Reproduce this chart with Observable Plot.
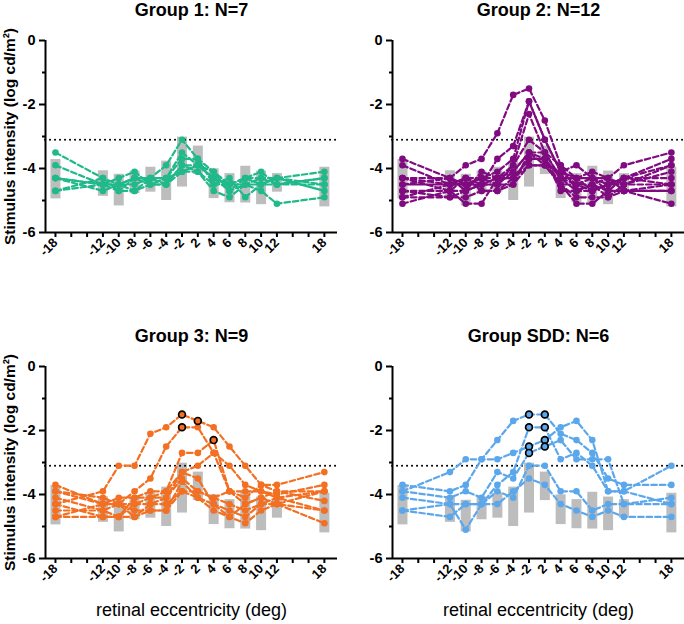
<!DOCTYPE html>
<html><head><meta charset="utf-8">
<script src="https://cdn.jsdelivr.net/npm/d3@7"></script>
<script src="https://cdn.jsdelivr.net/npm/@observablehq/plot@0.6"></script>
<style>
body{margin:0;background:#fff;}
#chart{position:relative;width:684px;height:624px;overflow:hidden;background:#fff;}
.panel{position:absolute;}
</style></head><body><div id="chart"></div>
<script>
// retinal eccentricities measured (deg)
const eccentricities = [-18,-12,-10,-8,-6,-4,-2,2,4,6,8,10,12,18];
// axis tick slots (every 2 deg, no 0)
const tickPositions = [-18,-16,-14,-12,-10,-8,-6,-4,-2,2,4,6,8,10,12,14,16,18];
const labeledTicks = [-18,-12,-10,-8,-6,-4,-2,2,4,6,8,10,12,18];
const yTicks = [0,-2,-4,-6];
const yMinorTicks = [-1,-3,-5];

// normal range (grey bars)
const normalTop    = [-3.72,-4.07,-4.18,-4.08,-3.96,-3.77,-3.02,-3.30,-4.01,-4.16,-3.93,-4.08,-4.16,-3.96];
const normalBottom = [-4.95,-4.87,-5.17,-4.79,-4.74,-5.00,-4.58,-4.19,-4.94,-5.07,-5.08,-5.13,-4.74,-5.20];
const criterion = -3.1;

const titles = ["Group 1: N=7","Group 2: N=12","Group 3: N=9","Group SDD: N=6"];
const yTitle = "Stimulus intensity (log cd/m²)";
const xTitle = "retinal eccentricity (deg)";

const group1 = [
  [-3.5,-4.3,-4.5,-4.3,-4.3,-3.9,-3.1,-3.7,-4.1,-4.5,-4.3,-4.1,-4.5,-4.5],
  [-3.9,-4.5,-4.3,-4.1,-4.5,-4.3,-3.5,-3.9,-4.3,-4.7,-4.5,-4.3,-4.3,-4.1],
  [-4.3,-4.5,-4.5,-4.7,-4.3,-4.3,-3.7,-3.7,-4.5,-4.3,-4.9,-4.5,-4.5,-4.3],
  [-4.7,-4.3,-4.7,-4.3,-4.5,-4.5,-3.9,-4.1,-4.7,-4.9,-4.5,-4.7,-5.1,-4.9],
  [-4.3,-4.5,-4.5,-4.3,-4.3,-4.3,-4.1,-3.9,-4.3,-4.5,-4.5,-4.5,-4.3,-4.7],
  [-4.3,-4.7,-4.5,-4.5,-4.3,-4.5,-3.9,-3.9,-4.1,-4.7,-4.3,-4.3,-4.5,-4.3],
  [-4.7,-4.5,-4.7,-4.7,-4.5,-4.5,-4.1,-4.1,-4.5,-4.5,-4.3,-4.5,-4.3,-4.5]
];
const group2 = [
  [-3.7,-4.3,-3.9,-3.7,-2.9,-1.7,-1.5,-2.5,-3.9,-4.3,-4.1,-4.3,-3.9,-3.5],
  [-3.9,-4.5,-4.3,-4.5,-3.7,-3.3,-1.9,-3.1,-4.1,-3.9,-4.3,-4.5,-4.3,-3.7],
  [-4.3,-4.7,-4.7,-4.1,-4.3,-3.9,-2.3,-3.5,-4.3,-4.7,-4.7,-4.5,-4.3,-3.9],
  [-4.5,-4.3,-4.5,-4.3,-4.1,-3.7,-1.9,-3.1,-4.1,-4.5,-4.5,-4.3,-4.5,-4.1],
  [-4.7,-4.7,-5.1,-5.1,-4.3,-4.1,-3.5,-3.7,-4.5,-5.1,-5.1,-4.7,-4.7,-4.7],
  [-4.9,-4.9,-4.7,-4.5,-4.5,-3.9,-3.1,-3.5,-4.3,-4.5,-4.3,-4.7,-4.7,-4.5],
  [-5.1,-4.7,-4.3,-4.7,-4.7,-4.5,-3.9,-3.9,-4.5,-4.9,-4.9,-4.9,-4.7,-5.1],
  [-4.5,-4.5,-4.5,-4.5,-4.3,-4.3,-3.7,-3.7,-4.3,-4.3,-4.3,-4.3,-4.7,-4.7],
  [-4.3,-4.5,-4.5,-4.3,-4.5,-4.1,-3.5,-3.9,-4.1,-4.3,-4.7,-4.5,-4.3,-4.3],
  [-4.7,-4.9,-4.9,-4.7,-4.7,-4.3,-3.7,-3.7,-4.7,-4.7,-4.5,-4.9,-4.5,-4.5],
  [-4.9,-4.5,-4.3,-4.3,-4.3,-4.3,-3.9,-3.9,-4.5,-4.5,-4.7,-4.5,-4.5,-3.9],
  [-4.3,-4.3,-4.7,-4.5,-4.5,-4.5,-3.5,-3.5,-3.9,-4.7,-4.5,-4.7,-4.3,-4.5]
];
const group3 = [
  [-4.3,-3.9,-3.1,-3.1,-2.1,-1.9,-1.5,-1.7,-1.9,-2.5,-3.1,-3.7,-3.7,-3.3],
  [-3.7,-4.3,-4.3,-3.9,-3.5,-2.5,-1.9,-1.9,-2.7,-3.1,-3.7,-3.9,-4.0,-3.7],
  [-3.9,-4.3,-4.1,-4.1,-3.9,-3.9,-2.7,-2.7,-2.3,-3.9,-4.3,-4.1,-3.9,-3.9],
  [-4.1,-4.5,-4.3,-4.3,-4.1,-3.9,-3.3,-3.5,-4.3,-4.5,-4.7,-4.3,-4.1,-4.5],
  [-4.7,-4.7,-4.7,-4.7,-4.3,-4.1,-3.5,-3.9,-4.1,-4.3,-4.5,-4.3,-4.3,-4.9],
  [-4.7,-4.3,-4.3,-4.5,-4.5,-4.5,-3.6,-4.1,-4.5,-4.7,-4.9,-4.5,-4.3,-3.9],
  [-4.5,-4.5,-4.7,-4.3,-4.3,-4.3,-3.9,-3.9,-4.1,-3.9,-4.1,-3.7,-3.9,-4.2],
  [-4.3,-4.7,-4.7,-4.1,-4.1,-4.1,-3.3,-3.1,-2.7,-3.9,-3.9,-3.9,-4.1,-3.9],
  [-3.9,-4.1,-4.3,-4.7,-4.5,-4.5,-3.9,-4.1,-4.3,-4.7,-4.3,-4.1,-4.3,-4.5]
];
const groupSDD = [
  [-3.7,-3.9,-3.7,-2.9,-2.3,-1.7,-1.5,-1.5,-2.1,-2.3,-2.7,-3.5,-3.7,-3.7],
  [-3.9,-3.3,-2.9,-2.9,-2.9,-2.7,-2.5,-2.3,-1.9,-1.7,-2.3,-3.9,-3.9,-3.1],
  [-3.9,-4.1,-3.9,-4.1,-3.3,-3.5,-2.7,-2.5,-2.3,-2.9,-2.9,-2.9,-4.3,-4.1],
  [-4.1,-4.3,-4.3,-4.3,-3.7,-3.3,-1.9,-1.9,-2.9,-2.7,-3.1,-3.9,-3.9,-4.3],
  [-4.5,-4.7,-4.3,-4.3,-3.9,-4.1,-3.1,-3.1,-3.9,-3.9,-4.5,-4.3,-4.3,-4.3],
  [-4.5,-4.3,-5.1,-4.3,-4.3,-3.9,-3.5,-3.7,-4.3,-4.5,-4.7,-4.5,-4.7,-4.7]
];
// points outlined in black: [eccentricity, value]
const group3Marked = [[-2,-1.5],[-2,-1.9],[2,-1.7],[4,-2.3]];
const groupSDDMarked = [[-2,-1.5],[-2,-1.9],[-2,-2.5],[-2,-2.7],[2,-1.5],[2,-1.9],[2,-2.3],[2,-2.5]];

const colors = ["#1fb98a","#800a80","#f36f21","#5ba7ec"];

const FONT = "'Liberation Sans', Arial, Helvetica, sans-serif";
const slot = e => tickPositions.indexOf(e);
const normal = eccentricities.map((e, i) => ({ecc: e, lo: normalBottom[i], hi: normalTop[i]}));

function panel({title, subjects, color, marked = [], solid = [], left, bottom}) {
  const rows = subjects.flatMap((vals, s) => vals.map((v, i) => ({s, ecc: eccentricities[i], v})));
  const markedRows = marked.map(([ecc, v]) => ({ecc, v}));
  const xDomain = [-0.63, 17.83];
  const marks = [
    Plot.ruleX(normal, {x: d => slot(d.ecc), y1: "lo", y2: "hi", stroke: "#bdbdbd", strokeWidth: 10}),
    Plot.ruleY([criterion], {stroke: "#000", strokeWidth: 2, strokeDasharray: "0.1,4.9", strokeLinecap: "round"}),
    Plot.line(rows.filter(d => !solid.includes(d.s)), {x: d => slot(d.ecc), y: "v", z: "s", stroke: color, strokeWidth: 2.2, strokeDasharray: "5.5,3"}),
    Plot.line(rows.filter(d => solid.includes(d.s)), {x: d => slot(d.ecc), y: "v", z: "s", stroke: color, strokeWidth: 2.2}),
    Plot.dot(rows, {x: d => slot(d.ecc), y: "v", r: 3.3, fill: color}),
    Plot.dot(markedRows, {x: d => slot(d.ecc), y: "v", r: 3.4, fill: color, stroke: "#000", strokeWidth: 1.7}),
    Plot.ruleX([xDomain[0]], {y1: yTicks[yTicks.length - 1], y2: yTicks[0], stroke: "#000", strokeWidth: 2}),
    Plot.ruleY([yTicks[yTicks.length - 1]], {stroke: "#000", strokeWidth: 2}),
    Plot.axisX({ticks: d3.range(tickPositions.length), tickSize: 5, tickPadding: 3, strokeWidth: 2,
      tickRotate: -45, fontSize: 13, label: null,
      tickFormat: i => labeledTicks.includes(tickPositions[i]) ? String(tickPositions[i]) : ""}),
    Plot.axisY({ticks: yTicks, tickSize: 6, tickPadding: 4, strokeWidth: 2, fontSize: 14.5, label: null,
      tickFormat: d => String(d)}),
    Plot.axisY({ticks: yMinorTicks, tickSize: 3, strokeWidth: 2, label: null, tickFormat: () => ""}),
    Plot.text([title], {frameAnchor: "top", dy: -30, lineAnchor: "middle", textAnchor: "middle", fontSize: 18, fontWeight: "bold", text: d => d})
  ];
  if (left) marks.push(Plot.text([yTitle], {frameAnchor: "left", dx: -35, rotate: -90, lineAnchor: "middle", textAnchor: "middle", fontSize: 15.5, fontWeight: "bold", text: d => d}));
  if (bottom) marks.push(Plot.text([xTitle], {frameAnchor: "bottom", dy: 52, lineAnchor: "middle", textAnchor: "middle", fontSize: 18, fontWeight: "normal", text: d => d}));
  const height = bottom ? 298 : 326;
  return Plot.plot({
    width: 342, height,
    marginLeft: left ? 45 : 50, marginRight: left ? 5 : 0,
    marginTop: 40, marginBottom: height - 40 - 192,
    x: {domain: xDomain, axis: null, label: null},
    y: {domain: [-6, 0], axis: null, label: null},
    style: {fontFamily: FONT, fontWeight: "bold", color: "#000", background: "transparent", overflow: "visible"},
    marks
  });
}

const chart = document.getElementById("chart");
const specs = [
  {title: titles[0], subjects: group1, color: colors[0], solid: [4], left: true, bottom: false, x: 0, y: 0},
  {title: titles[1], subjects: group2, color: colors[1], solid: [7], left: false, bottom: false, x: 342, y: 0},
  {title: titles[2], subjects: group3, color: colors[2], marked: group3Marked, left: true, bottom: true, x: 0, y: 326},
  {title: titles[3], subjects: groupSDD, color: colors[3], marked: groupSDDMarked, left: false, bottom: true, x: 342, y: 326}
];
for (const s of specs) {
  const div = document.createElement("div");
  div.className = "panel";
  div.style.left = s.x + "px";
  div.style.top = s.y + "px";
  div.appendChild(panel(s));
  chart.appendChild(div);
}
</script></body></html>
